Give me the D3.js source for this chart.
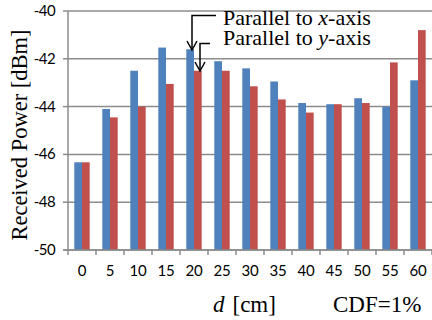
<!DOCTYPE html>
<html>
<head>
<meta charset="utf-8">
<script src="https://cdn.jsdelivr.net/npm/d3@7"></script>
<style>
  body { margin: 0; background: #fff; }
  svg { display: block; }
</style>
</head>
<body>
<script>
// distance d [cm]
var distances = [0, 5, 10, 15, 20, 25, 30, 35, 40, 45, 50, 55, 60];
// received power at CDF=1%
var parallelX = [-46.33, -44.1, -42.5, -41.53, -41.6, -42.1, -42.4, -42.95, -43.85, -43.9, -43.65, -44.0, -42.9];
var parallelY = [-46.33, -44.45, -44.0, -43.05, -42.5, -42.5, -43.15, -43.7, -44.25, -43.9, -43.85, -42.15, -40.8];
var yTicks = [-50, -48, -46, -44, -42, -40];
var seriesNames = ["x", "y"];

var W = 432, H = 320;
var margin = {left: 68, right: 0, top: 11, bottom: 70};

var svg = d3.select("body").append("svg")
    .attr("width", W)
    .attr("height", H);

var x = d3.scaleBand()
    .domain(distances)
    .range([margin.left, W - margin.right])
    .paddingInner(0.45)
    .paddingOuter(0.225);

var xs = d3.scaleBand()
    .domain([0, 1])
    .range([0, x.bandwidth()]);

var y = d3.scaleLinear()
    .domain([-50, -40])
    .range([H - margin.bottom, margin.top]);

// gridlines
svg.append("g")
    .selectAll("line")
    .data(yTicks)
    .enter().append("line")
    .attr("x1", margin.left)
    .attr("x2", W - margin.right)
    .attr("y1", d => y(d))
    .attr("y2", d => y(d))
    .style("stroke", "#8c8c8c")
    .style("stroke-width", 1.5);

// bars
var groups = svg.append("g")
    .selectAll("g")
    .data(distances)
    .enter().append("g")
    .attr("transform", d => "translate(" + x(d) + ",0)");

var colors = ["#4f81bd", "#c0504d"];
[parallelX, parallelY].forEach(function(vals, k) {
    groups.append("rect")
        .attr("x", xs(k))
        .attr("width", xs.bandwidth())
        .attr("y", (d, i) => y(vals[i]))
        .attr("height", (d, i) => y(-50) - y(vals[i]))
        .style("fill", colors[k]);
});

// axes
var axisColor = "#8c8c8c";
svg.append("line")
    .attr("x1", margin.left).attr("x2", margin.left)
    .attr("y1", y(-40)).attr("y2", y(-50))
    .style("stroke", axisColor).style("stroke-width", 1.5);
svg.append("line")
    .attr("x1", margin.left - 5).attr("x2", W)
    .attr("y1", y(-50)).attr("y2", y(-50))
    .style("stroke", axisColor).style("stroke-width", 1.5);

var sans = "Lato, 'Liberation Sans', sans-serif";

// y tick marks + labels
var yt = svg.append("g");
yt.selectAll("line")
    .data(yTicks)
    .enter().append("line")
    .attr("x1", margin.left - 5).attr("x2", margin.left)
    .attr("y1", d => y(d)).attr("y2", d => y(d))
    .style("stroke", axisColor).style("stroke-width", 1.5);
yt.selectAll("text")
    .data(yTicks)
    .enter().append("text")
    .attr("x", 55)
    .attr("y", d => y(d) + 5)
    .attr("text-anchor", "end")
    .style("font-family", sans)
    .style("font-size", "15px")
    .style("letter-spacing", "-0.6px")
    .text(d => d);

// x tick marks at category boundaries
var step = x.step();
var bounds = d3.range(distances.length + 1).map(i => margin.left + i * step);
svg.append("g").selectAll("line")
    .data(bounds)
    .enter().append("line")
    .attr("x1", d => d).attr("x2", d => d)
    .attr("y1", y(-50)).attr("y2", y(-50) + 5)
    .style("stroke", axisColor).style("stroke-width", 1.5);

svg.append("g").selectAll("text")
    .data(distances)
    .enter().append("text")
    .attr("x", d => x(d) + x.bandwidth() / 2)
    .attr("y", y(-50) + 26)
    .attr("text-anchor", "middle")
    .style("font-family", sans)
    .style("font-size", "15px")
    .style("letter-spacing", "-0.3px")
    .text(d => d);

// axis titles
var serif = "'Liberation Serif', 'Times New Roman', serif";
svg.append("text")
    .attr("transform", "translate(27,135) rotate(-90)")
    .attr("text-anchor", "middle")
    .style("font-family", serif)
    .style("font-size", "22.5px")
    .text("Received Power [dBm]");

var xt = svg.append("text")
    .attr("x", 213)
    .attr("y", 312)
    .style("font-family", serif)
    .style("font-size", "23px");
xt.append("tspan").style("font-style", "italic").text("d");
xt.append("tspan").attr("dx", 8).text("[cm]");

svg.append("text")
    .attr("x", 333)
    .attr("y", 312)
    .style("font-family", serif)
    .style("font-size", "23px")
    .text("CDF=1%");

// annotation arrows
function arrow(x0, yTop, yTip, xEnd) {
    var g = svg.append("g").style("stroke", "#000").style("stroke-width", 1.5).style("fill", "none");
    g.append("path").attr("d", "M" + xEnd + "," + yTop + "H" + x0 + "V" + yTip);
    g.append("path").attr("d", "M" + (x0 - 5) + "," + (yTip - 9) + "L" + x0 + "," + yTip + "L" + (x0 + 5) + "," + (yTip - 9));
}
arrow(192, 15.5, 50, 216);
arrow(200, 43.5, 71, 210);

seriesNames.forEach(function(s, i) {
    var t = svg.append("text")
        .attr("x", 223)
        .attr("y", 25 + i * 20)
        .style("font-family", serif)
        .style("font-size", "22px");
    t.append("tspan").text("Parallel to ");
    t.append("tspan").style("font-style", "italic").text(s);
    t.append("tspan").text("-axis");
});
</script>
</body>
</html>
